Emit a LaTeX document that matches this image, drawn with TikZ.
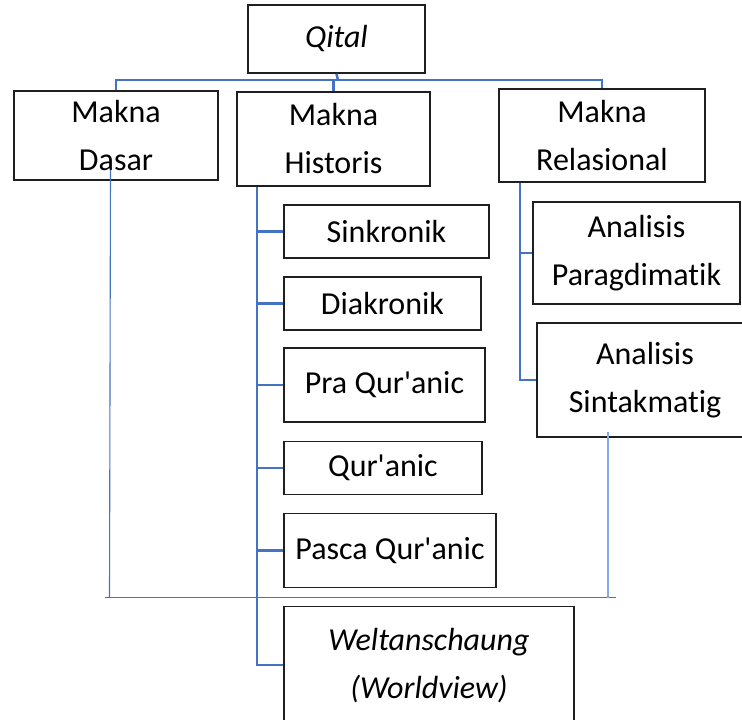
\documentclass[tikz,border=0pt]{standalone}
\usepackage{fontspec}
\setmainfont{Carlito}[Ligatures={NoCommon}]
\definecolor{tb}{HTML}{4472C4}
\definecolor{lb}{HTML}{86A8E4}
\begin{document}
\begin{tikzpicture}[x=1pt,y=-1pt,
  box/.style={draw=black!88, line width=1.7pt, inner sep=0pt, align=center,
              font=\fontsize{32}{48}\selectfont},
  tree/.style={draw=tb, line width=2.5pt},
  thinln/.style={draw=tb, line width=1.1pt},
  lightln/.style={draw=lb, line width=1.8pt}]
\clip (0,0) rectangle (742,720);
\useasboundingbox (0,0) rectangle (742,720);
% top level
\node[box, minimum width=177pt, minimum height=68pt] (qital) at (336.5,39) {\itshape Qital};
\node[box, minimum width=204pt, minimum height=89pt] (dasar) at (116,135.5) {Makna\\Dasar};
\node[box, minimum width=193pt, minimum height=94pt] (historis) at (333.5,139) {Makna\\Historis};
\node[box, minimum width=206pt, minimum height=93pt] (relasional) at (602,135.5) {Makna\\Relasional};
% historis children
\node[box, minimum width=205pt, minimum height=53pt] (sink) at (386.5,231.5) {Sinkronik};
\node[box, minimum width=197pt, minimum height=53pt] (diak) at (382.5,303.5) {Diakronik};
\node[box, minimum width=201pt, minimum height=74pt] (pra) at (384.5,385) {Pra Qur\textquotesingle anic};
\node[box, minimum width=198pt, minimum height=53pt] (qur) at (383,468) {Qur\textquotesingle anic};
\node[box, minimum width=212pt, minimum height=74pt] (pasca) at (390,550.5) {Pasca Qur\textquotesingle anic};
\node[box, minimum width=290pt, minimum height=119pt] (welt) at (429,666) {\itshape Weltanschaung\\\itshape (Worldview)};
% relasional children
\node[box, minimum width=207pt, minimum height=102pt] (para) at (636.5,253) {Analisis\\Paragdimatik};
\node[box, minimum width=216pt, minimum height=114pt] (sint) at (645,380) {Analisis\\Sintakmatig};
% bus
\coordinate (bus) at (338,80);
\draw[tree] (qital.south) -- (bus);
\draw[tree] (dasar.north) -- (dasar.north |- bus) -- (relasional.north |- bus) -- (relasional.north);
\draw[tree] (historis.north) -- (historis.north |- bus);
% historis spine
\coordinate (hs) at (257,0);
\coordinate (hend) at (257,665);
\draw[tree] (hs |- historis.south) -- (hend) -- (hend -| welt.west);
\foreach \n in {sink,diak,pra,qur,pasca}{\draw[tree] (hs |- \n.west) -- (\n.west);}
% relasional spine
\coordinate (rs) at (520,0);
\draw[tree] (rs |- relasional.south) -- (rs |- sint.west) -- (sint.west);
\draw[tree] (rs |- para.west) -- (para.west);
% thin lines
\coordinate (t1) at (110.5,170);
\coordinate (t2) at (109.5,597.5);
\coordinate (t3) at (105,597.5);
\coordinate (t4) at (616,597.5);
\coordinate (t5) at (608,432);
\coordinate (t6) at (608,598);
\draw[thinln] (t1) -- (t2);
\draw[thinln] (t3) -- (t4);
\draw[lightln] (t5) -- (t6);
\end{tikzpicture}
\end{document}
